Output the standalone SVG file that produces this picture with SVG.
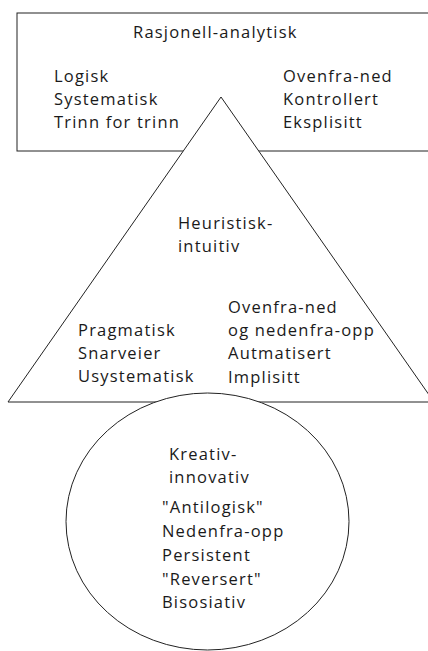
<svg xmlns="http://www.w3.org/2000/svg" width="428" height="651" viewBox="0 0 428 651">
<style>
text{font-family:"Open Sans","Liberation Sans",sans-serif;font-size:16.5px;letter-spacing:1.2px;fill:#1a1a1a}
.shape{fill:#fff;stroke:#222;stroke-width:1}
</style>
<rect x="0" y="0" width="428" height="651" fill="#fff"/>
<g id="rasjonell">
<rect class="shape" x="17" y="13" width="420" height="138" stroke-width="2" stroke="#333"/>
<text x="133" y="38">Rasjonell-analytisk</text>
<text x="54" y="82">Logisk</text>
<text x="54" y="105">Systematisk</text>
<text x="54" y="128">Trinn for trinn</text>
<text x="283" y="82">Ovenfra-ned</text>
<text x="283" y="105">Kontrollert</text>
<text x="283" y="128">Eksplisitt</text>
</g>
<g id="heuristisk">
<polygon class="shape" points="221,97 434,402 8,402"/>
<text x="178" y="229">Heuristisk-</text>
<text x="178" y="252">intuitiv</text>
<text x="228" y="313">Ovenfra-ned</text>
<text x="228" y="336">og nedenfra-opp</text>
<text x="228" y="359">Autmatisert</text>
<text x="228" y="383">Implisitt</text>
<text x="78" y="336">Pragmatisk</text>
<text x="78" y="359">Snarveier</text>
<text x="78" y="382">Usystematisk</text>
</g>
<g id="kreativ">
<ellipse class="shape" cx="207.5" cy="521.5" rx="141.5" ry="128.5"/>
<text x="169" y="460">Kreativ-</text>
<text x="169" y="483">innovativ</text>
<text x="162" y="513">"Antilogisk"</text>
<text x="162" y="537">Nedenfra-opp</text>
<text x="162" y="561">Persistent</text>
<text x="162" y="585">"Reversert"</text>
<text x="162" y="608">Bisosiativ</text>
</g>
<g id="connectors"/>
</svg>
